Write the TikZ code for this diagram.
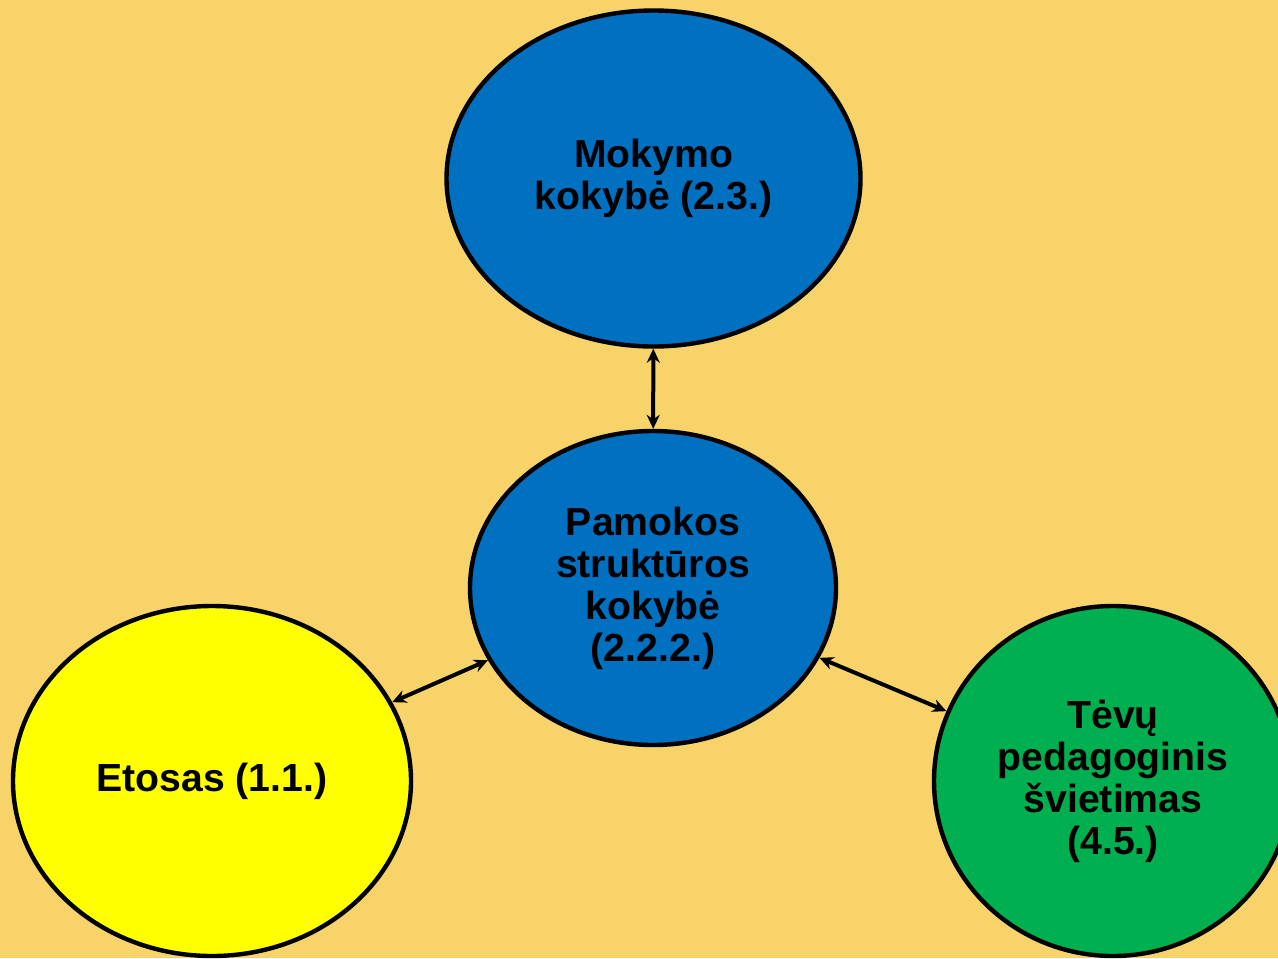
\documentclass[tikz,border=0pt]{standalone}
\usepackage{fontspec}
\setmainfont{Liberation Sans}
\usetikzlibrary{shapes.geometric,arrows.meta}
\definecolor{bgcol}{HTML}{F7D36A}
\definecolor{bluecol}{HTML}{0070C0}
\definecolor{yellowcol}{HTML}{FFFF00}
\definecolor{greencol}{HTML}{00B050}
\begin{document}
\begin{tikzpicture}[x=0.5pt,y=-0.5pt,
  bubble/.style={ellipse, draw=black, line width=2.2pt, inner sep=0pt, align=center,
    font=\fontsize{19.6}{21}\selectfont\bfseries},
  link/.style={line width=2pt, {Stealth[length=7pt,width=6.5pt]}-{Stealth[length=7pt,width=6.5pt]}}]
\useasboundingbox (0,0) rectangle (1278,958);
\fill[bgcol] (0,0) rectangle (1278,958);
\begin{scope}
\clip (0,0) rectangle (1278,958);
\node[bubble, fill=bluecol, minimum width=207pt, minimum height=168pt] (top) at (653.5,178.5) {Mokymo\\kokybė (2.3.)};
\node[bubble, fill=bluecol, minimum width=183pt, minimum height=157pt] (mid) at (653,588) {Pamokos\\struktūros\\kokybė\\(2.2.2.)};
\node[bubble, fill=yellowcol, minimum width=199pt, minimum height=175pt] (left) at (212,781) {Etosas (1.1.)};
\node[bubble, fill=greencol, minimum width=179pt, minimum height=175pt] (right) at (1113,781) {Tėvų\\pedagoginis\\švietimas\\(4.5.)};
\end{scope}
\draw[link] (top) -- (mid);
\draw[link] (left) -- (mid);
\draw[link] (mid) -- (right);
\end{tikzpicture}
\end{document}
